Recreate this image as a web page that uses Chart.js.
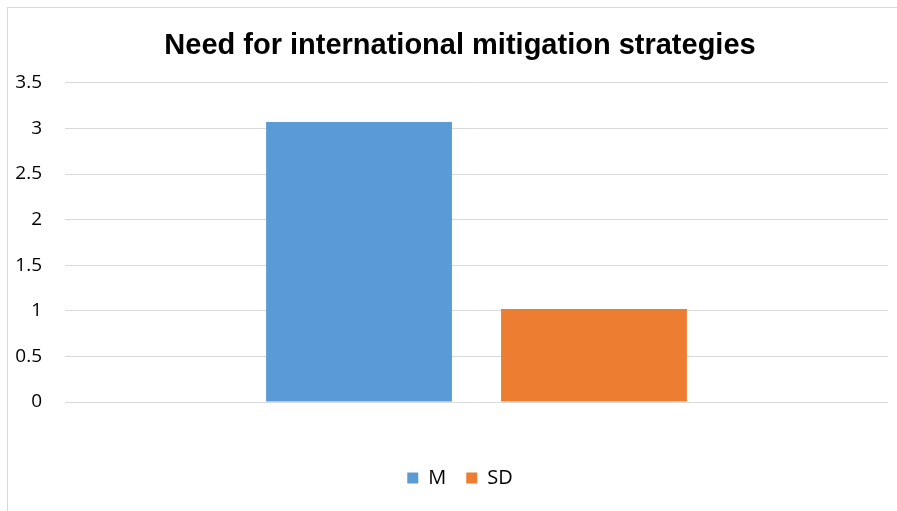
<!DOCTYPE html>
<html>
<head>
<meta charset="utf-8">
<script src="https://cdn.jsdelivr.net/npm/chart.js@4/dist/chart.umd.min.js"></script>
<style>
  html, body { margin: 0; padding: 0; background: #ffffff; overflow: hidden; }
  #wrap { position: absolute; left: 0; top: 0; width: 897px; height: 511px; overflow: hidden; }
  #frame { position: absolute; left: 7px; top: 7px; width: 1000px; height: 1000px; border: 1px solid #d9d9d9; box-sizing: border-box; }
  canvas { position: absolute; left: 0; top: 0; }
</style>
</head>
<body>
<div id="wrap">
  <div id="frame"></div>
  <canvas id="c" width="921" height="511"></canvas>
</div>
<script>
const categories = [""];
const seriesNames = ["M", "SD"];
const mValues = [3.07];
const sdValues = [1.02];
const yTicks = [0, 0.5, 1, 1.5, 2, 2.5, 3, 3.5];
const titleText = "Need for international mitigation strategies";

const ctx = document.getElementById('c').getContext('2d');
new Chart(ctx, {
  type: 'bar',
  data: {
    labels: categories,
    datasets: [
      { label: seriesNames[0], data: mValues, backgroundColor: '#5b9bd5', borderWidth: 0 },
      { label: seriesNames[1], data: sdValues, backgroundColor: '#ed7d31', borderWidth: 0 }
    ]
  },
  options: {
    responsive: false,
    animation: false,
    devicePixelRatio: 1,
    categoryPercentage: 0.571,
    barPercentage: 0.791,
    layout: { padding: { left: 32, right: 33, top: 10, bottom: 13 } },
    plugins: {
      title: {
        display: true,
        text: titleText,
        color: '#000000',
        font: { family: 'Liberation Sans, Arial, sans-serif', size: 29, weight: 'bold' },
        padding: { top: 19, bottom: 19 }
      },
      legend: {
        display: true,
        position: 'bottom',
        labels: {
          color: '#000000',
          boxWidth: 11,
          boxHeight: 11,
          padding: 20,
          font: { family: 'Open Sans, sans-serif', size: 20 }
        }
      },
      tooltip: { enabled: false }
    },
    scales: {
      x: {
        ticks: { display: false },
        grid: { display: false },
        border: { display: false },
        afterFit: (axis) => { axis.height = 46; }
      },
      y: {
        min: 0,
        max: 3.5,
        afterBuildTicks: (axis) => { axis.ticks = yTicks.map(v => ({ value: v })); },
        afterFit: (axis) => { axis.width = 33; axis._computeLabelArea = () => undefined; },
        ticks: {
          color: '#000000',
          padding: 23,
          font: { family: 'Open Sans, sans-serif', size: 19 },
          callback: (v) => String(v)
        },
        grid: { color: '#d9d9d9', lineWidth: 1, drawTicks: false },
        border: { display: false }
      }
    }
  }
});
</script>
</body>
</html>
